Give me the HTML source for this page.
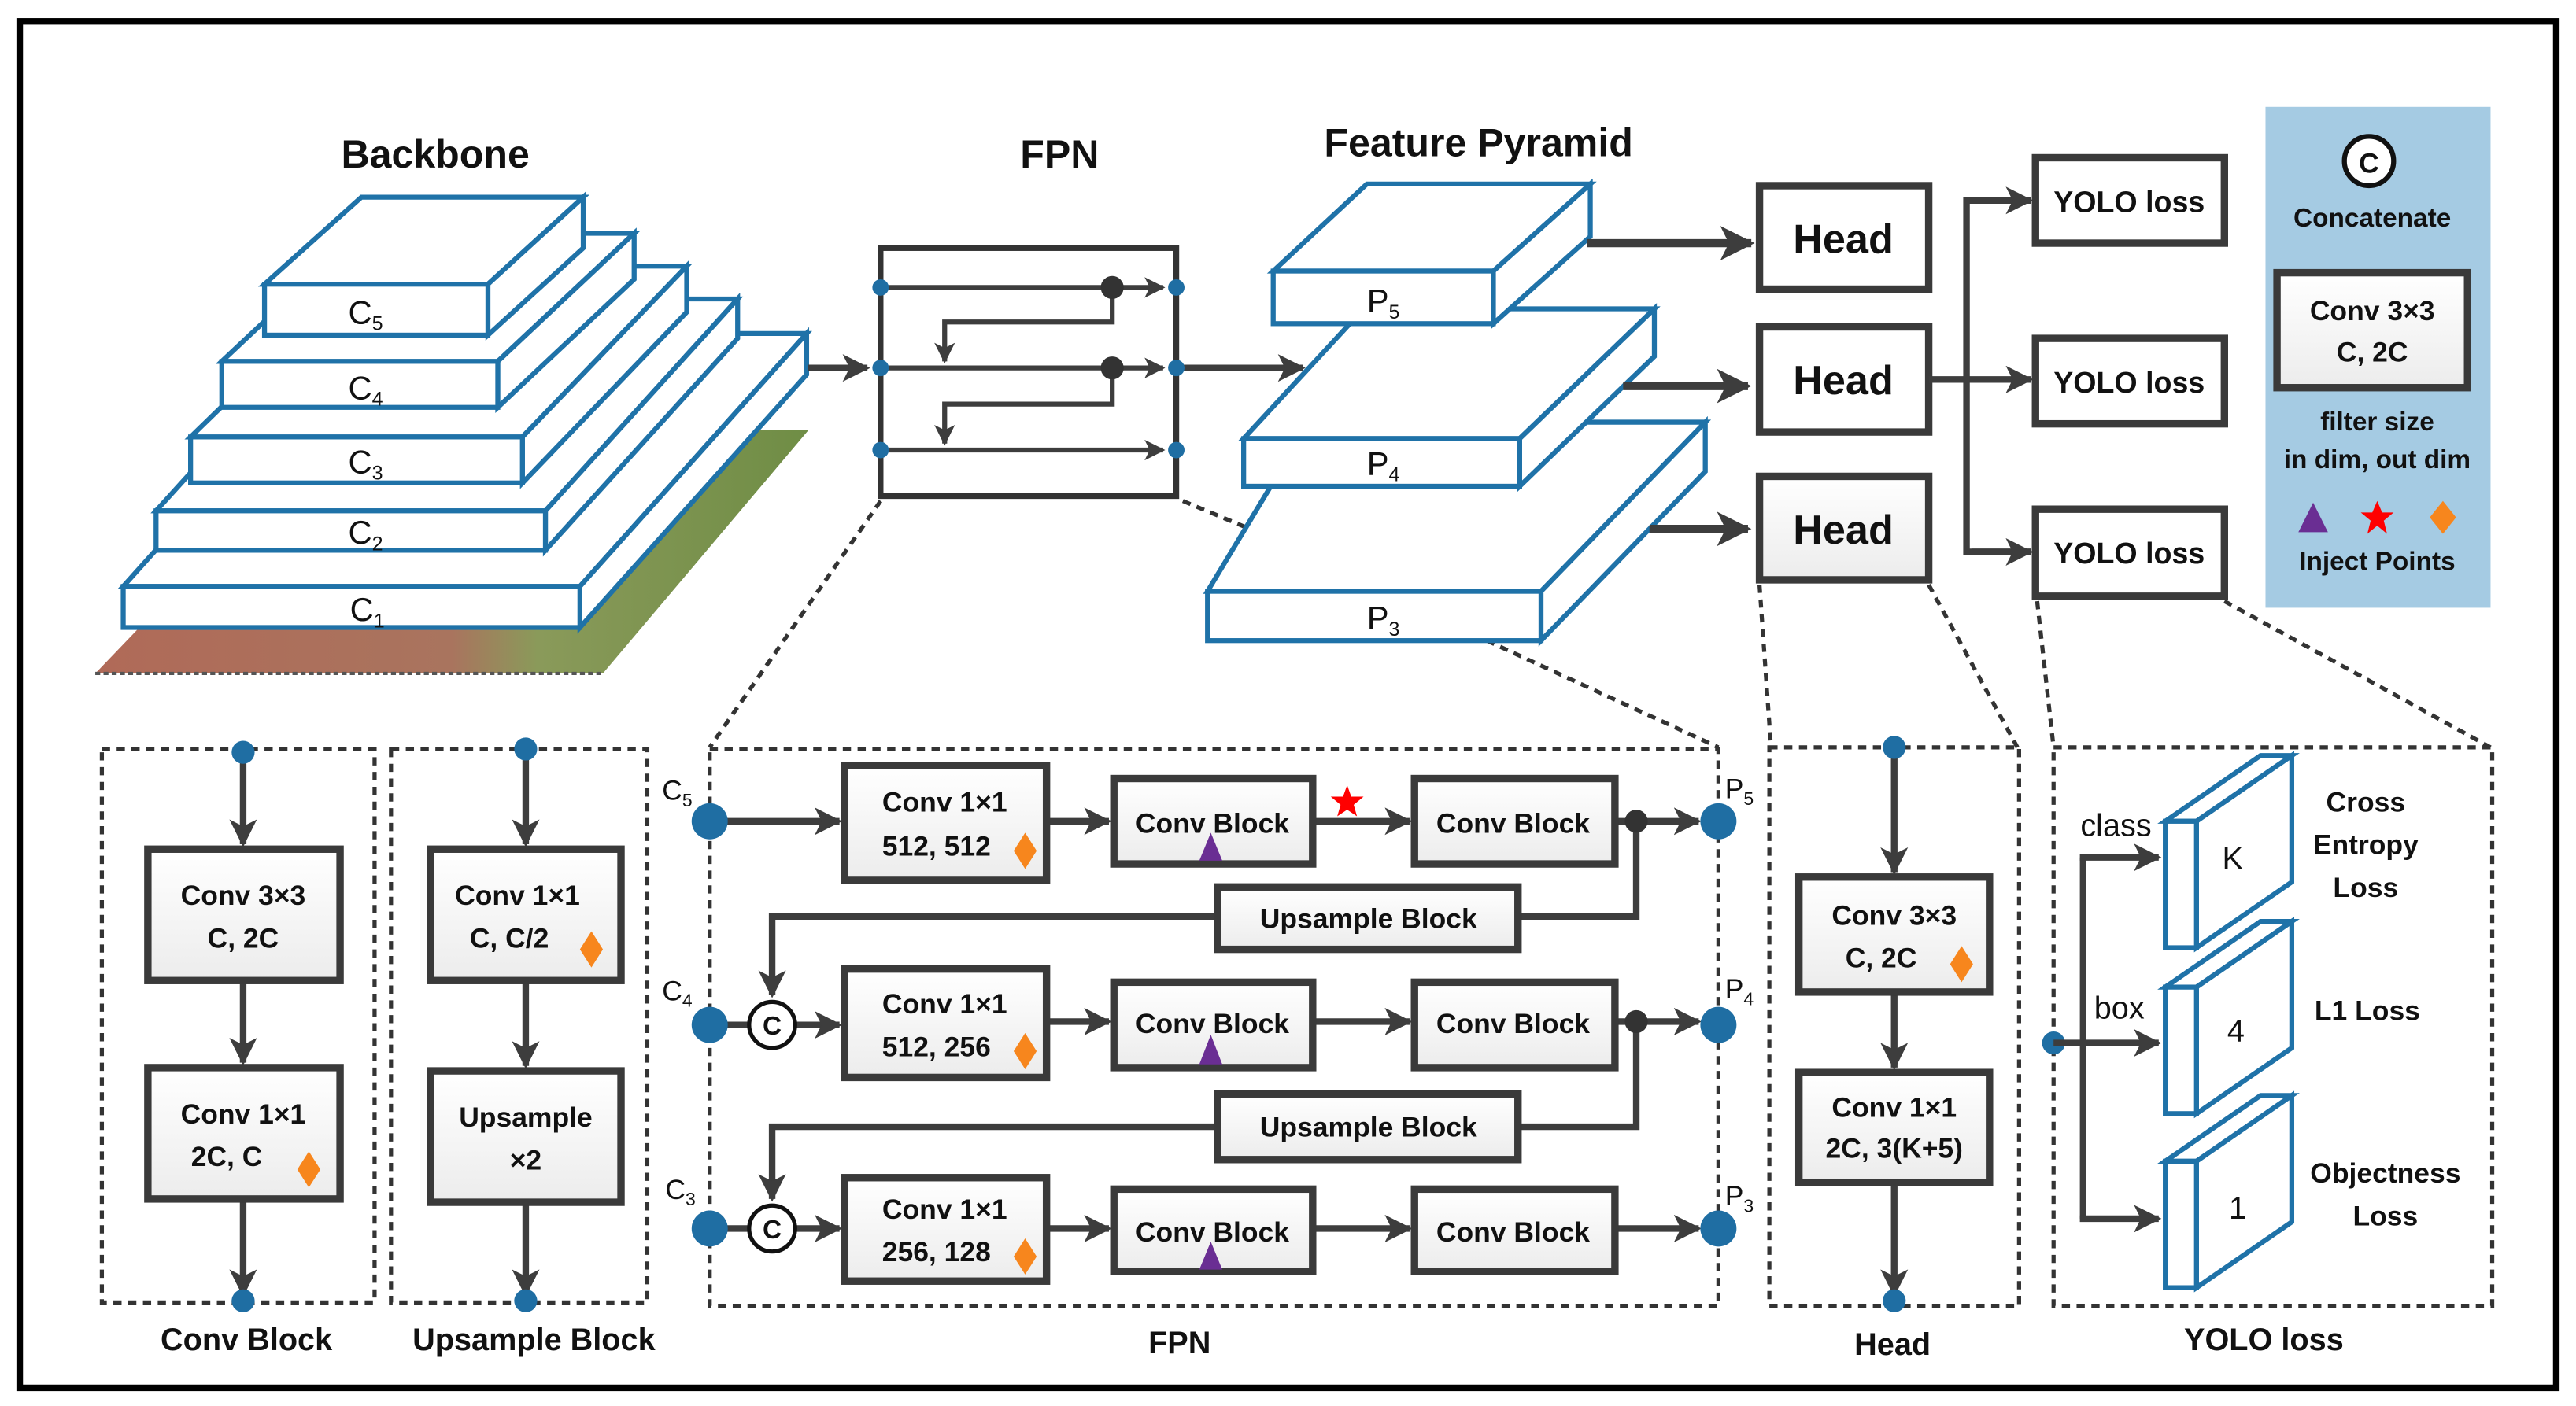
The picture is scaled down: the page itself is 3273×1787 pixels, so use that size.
<!DOCTYPE html>
<html><head><meta charset="utf-8"><style>
html,body{margin:0;padding:0;background:#fff;}
svg{display:block;}
text{font-family:"Liberation Sans",sans-serif;font-weight:bold;fill:#111;}
text.n{font-weight:normal;}
</style></head><body>
<svg width="3273" height="1787" viewBox="0 0 1568 856" xmlns="http://www.w3.org/2000/svg">
<defs>
<marker id="a" viewBox="0 0 10 10" refX="9" refY="5" markerWidth="4.2" markerHeight="4.2" orient="auto" markerUnits="strokeWidth"><path d="M0,0 L10,5 L0,10 L2.5,5 z" fill="#3d3d3d"/></marker>
<linearGradient id="g" x1="0" y1="0" x2="0" y2="1"><stop offset="0" stop-color="#fff"/><stop offset="1" stop-color="#ececec"/></linearGradient>
<linearGradient id="img" x1="0" y1="0" x2="1" y2="0"><stop offset="0" stop-color="#b06a58"/><stop offset="0.5" stop-color="#a9745e"/><stop offset="0.62" stop-color="#8a9a5a"/><stop offset="1" stop-color="#6f8d45"/></linearGradient>
</defs>
<rect x="0" y="0" width="1568" height="856" fill="#fff"/>
<rect x="12" y="13" width="1544" height="832" fill="none" stroke="#000" stroke-width="4"/>

<text x="265" y="102" font-size="24" text-anchor="middle">Backbone</text>
<text x="645" y="102" font-size="24" text-anchor="middle">FPN</text>
<text x="900" y="95" font-size="24" text-anchor="middle">Feature Pyramid</text>

<polygon points="58,410 367,410 492,262 200,262" fill="url(#img)"/>
<line x1="58" y1="410" x2="367" y2="410" stroke="#555" stroke-width="2" stroke-dasharray="3,2"/>

<g fill="#fff" stroke="#1f72a8" stroke-width="3" stroke-linejoin="miter">
<polygon points="75,357 213,203 491,203 353,357"/><polygon points="353,357 491,203 491,228 353,382"/><rect x="75" y="357" width="278" height="25"/>
<polygon points="95,311 212,182 449,182 332,311"/><polygon points="332,311 449,182 449,206 332,335"/><rect x="95" y="311" width="237" height="24"/>
<polygon points="116,266 223,162 418,162 318,266"/><polygon points="318,266 418,162 418,190 318,294"/><rect x="116" y="266" width="202" height="28"/>
<polygon points="135,220 218,142 386,142 303,220"/><polygon points="303,220 386,142 386,170 303,248"/><rect x="135" y="220" width="168" height="28"/>
<polygon points="161,173 220,120 355,120 297,173"/><polygon points="297,173 355,120 355,151 297,204"/><rect x="161" y="173" width="136" height="31"/>
</g>
<g font-size="20">
<text class="n" x="212" y="197">C<tspan font-size="12" dy="4">5</tspan></text>
<text class="n" x="212" y="243">C<tspan font-size="12" dy="4">4</tspan></text>
<text class="n" x="212" y="288">C<tspan font-size="12" dy="4">3</tspan></text>
<text class="n" x="212" y="331">C<tspan font-size="12" dy="4">2</tspan></text>
<text class="n" x="213" y="378">C<tspan font-size="12" dy="4">1</tspan></text>
</g>

<g stroke="#3d3d3d" stroke-width="4" fill="none">
<line x1="492" y1="224" x2="528" y2="224" marker-end="url(#a)"/>
</g>

<g stroke="#333" stroke-width="2.5" stroke-dasharray="5,4" fill="none">
<line x1="536" y1="305" x2="432" y2="455"/>
<line x1="720" y1="305" x2="780" y2="330"/>
<line x1="905" y1="390" x2="1046" y2="455"/>
<line x1="1071" y1="356" x2="1078" y2="455"/>
<line x1="1174" y1="356" x2="1228" y2="455"/>
<line x1="1240" y1="366" x2="1250" y2="455"/>
<line x1="1354" y1="366" x2="1516" y2="455"/>
</g>

<rect x="536" y="151" width="180" height="151" fill="#fff" stroke="#333" stroke-width="3.5"/>
<g stroke="#3d3d3d" stroke-width="3" fill="none">
<line x1="536" y1="175" x2="708" y2="175" marker-end="url(#a)"/>
<line x1="536" y1="224" x2="708" y2="224" marker-end="url(#a)"/>
<line x1="536" y1="274" x2="708" y2="274" marker-end="url(#a)"/>
<polyline points="677,175 677,196 575,196 575,220" marker-end="url(#a)"/>
<polyline points="677,224 677,246 575,246 575,270" marker-end="url(#a)"/>
<line x1="716" y1="224" x2="793" y2="224" stroke-width="4" marker-end="url(#a)"/>
</g>
<circle cx="677" cy="175" r="7" fill="#333"/><circle cx="677" cy="224" r="7" fill="#333"/>
<g fill="#1f6ea3"><circle cx="536" cy="175" r="5"/><circle cx="536" cy="224" r="5"/><circle cx="536" cy="274" r="5"/><circle cx="716" cy="175" r="5"/><circle cx="716" cy="224" r="5"/><circle cx="716" cy="274" r="5"/></g>

<g fill="#fff" stroke="#1f72a8" stroke-width="3">
<polygon points="735,360 797,257 1038,257 938,360"/><polygon points="938,360 1038,257 1038,287 938,390"/><rect x="735" y="360" width="203" height="30"/>
<polygon points="757,267 830,188 1007,188 925,267"/><polygon points="925,267 1007,188 1007,217 925,296"/><rect x="757" y="267" width="168" height="29"/>
<polygon points="775,165 832,112 968,112 909,165"/><polygon points="909,165 968,112 968,144 909,197"/><rect x="775" y="165" width="134" height="32"/>
</g>
<text class="n" x="832" y="190" font-size="20">P<tspan font-size="12" dy="4">5</tspan></text>
<text class="n" x="832" y="289" font-size="20">P<tspan font-size="12" dy="4">4</tspan></text>
<text class="n" x="832" y="383" font-size="20">P<tspan font-size="12" dy="4">3</tspan></text>

<g stroke="#3d3d3d" stroke-width="5" fill="none">
<line x1="966" y1="148" x2="1066" y2="148" marker-end="url(#a)"/>
<line x1="988" y1="235" x2="1064" y2="235" marker-end="url(#a)"/>
<line x1="1004" y1="322" x2="1064" y2="322" marker-end="url(#a)"/>
</g>

<g stroke="#3a3a3a" stroke-width="4.5">
<rect x="1071" y="113" width="103" height="63" fill="#fff"/>
<rect x="1071" y="199" width="103" height="64" fill="#fff"/>
<rect x="1071" y="290" width="103" height="63" fill="url(#g)"/>
</g>
<g font-size="25" text-anchor="middle"><text x="1122" y="154">Head</text><text x="1122" y="240">Head</text><text x="1122" y="331">Head</text></g>

<g stroke="#3d3d3d" stroke-width="4" fill="none">
<line x1="1174" y1="231" x2="1236" y2="231" marker-end="url(#a)"/>
<polyline points="1236,122 1197,122 1197,336 1236,336"/>
<line x1="1200" y1="122" x2="1236" y2="122" marker-end="url(#a)"/>
<line x1="1200" y1="336" x2="1236" y2="336" marker-end="url(#a)"/>
</g>
<g stroke="#3a3a3a" stroke-width="4.5" fill="#fff">
<rect x="1239" y="96" width="115" height="52"/><rect x="1239" y="206" width="115" height="52"/><rect x="1239" y="310" width="115" height="53"/>
</g>
<g font-size="18" text-anchor="middle"><text x="1296" y="129">YOLO loss</text><text x="1296" y="239">YOLO loss</text><text x="1296" y="343">YOLO loss</text></g>

<rect x="1379" y="65" width="137" height="305" fill="#a5cbe3"/>
<circle cx="1442" cy="98" r="15" fill="#fff" stroke="#111" stroke-width="3"/>
<text x="1442" y="105" font-size="17" text-anchor="middle">C</text>
<text x="1444" y="138" font-size="16" text-anchor="middle">Concatenate</text>
<rect x="1386" y="166" width="116" height="70" fill="url(#g)" stroke="#3a3a3a" stroke-width="4.5"/>
<text x="1444" y="195" font-size="17" text-anchor="middle">Conv 3×3</text>
<text x="1444" y="220" font-size="17" text-anchor="middle">C, 2C</text>
<text x="1447" y="262" font-size="16" text-anchor="middle">filter size</text>
<text x="1447" y="285" font-size="16" text-anchor="middle">in dim, out dim</text>
<polygon points="1408,306 1417,324 1399,324" fill="#6a2e93"/>
<polygon points="1447,305 1450,312 1457,312 1451,317 1453,325 1447,320 1441,325 1443,317 1437,312 1444,312" fill="#f00"/>
<polygon points="1487,305 1495,315 1487,325 1479,315" fill="#f7861d"/>
<text x="1447" y="347" font-size="16" text-anchor="middle">Inject Points</text>

<g stroke="#333" stroke-width="2.5" stroke-dasharray="5,4" fill="none">
<rect x="62" y="456" width="166" height="337"/>
<rect x="238" y="456" width="156" height="337"/>
<rect x="432" y="456" width="614" height="339"/>
<rect x="1077" y="455" width="152" height="340"/>
<rect x="1250" y="455" width="267" height="340"/>
</g>

<g stroke="#3d3d3d" stroke-width="4" fill="none">
<line x1="148" y1="458" x2="148" y2="514" marker-end="url(#a)"/>
<line x1="148" y1="597" x2="148" y2="647" marker-end="url(#a)"/>
<line x1="148" y1="730" x2="148" y2="788" marker-end="url(#a)"/>
<line x1="320" y1="456" x2="320" y2="514" marker-end="url(#a)"/>
<line x1="320" y1="597" x2="320" y2="649" marker-end="url(#a)"/>
<line x1="320" y1="732" x2="320" y2="788" marker-end="url(#a)"/>
<line x1="1153" y1="455" x2="1153" y2="531" marker-end="url(#a)"/>
<line x1="1153" y1="604" x2="1153" y2="650" marker-end="url(#a)"/>
<line x1="1153" y1="720" x2="1153" y2="788" marker-end="url(#a)"/>
</g>
<g stroke="#3a3a3a" stroke-width="4.5" fill="url(#g)">
<rect x="90" y="517" width="117" height="80"/><rect x="90" y="650" width="117" height="80"/>
<rect x="262" y="517" width="116" height="80"/><rect x="262" y="652" width="116" height="80"/>
<rect x="1095" y="534" width="116" height="70"/><rect x="1095" y="653" width="116" height="67"/>
</g>
<g font-size="17" text-anchor="middle">
<text x="148" y="551">Conv 3×3</text><text x="148" y="577">C, 2C</text>
<text x="148" y="684">Conv 1×1</text><text x="138" y="710">2C, C</text>
<text x="315" y="551">Conv 1×1</text><text x="310" y="577">C, C/2</text>
<text x="320" y="686">Upsample</text><text x="320" y="712">×2</text>
<text x="1153" y="563">Conv 3×3</text><text x="1145" y="589">C, 2C</text>
<text x="1153" y="680">Conv 1×1</text><text x="1153" y="705">2C, 3(K+5)</text>
<text x="150" y="822" font-size="19">Conv Block</text>
<text x="325" y="822" font-size="19">Upsample Block</text>
<text x="718" y="824" font-size="19">FPN</text>
<text x="1152" y="825" font-size="19">Head</text>
<text x="1378" y="822" font-size="19">YOLO loss</text>
</g>
<g fill="#1f6ea3"><circle cx="148" cy="458" r="7"/><circle cx="148" cy="792" r="7"/><circle cx="320" cy="456" r="7"/><circle cx="320" cy="792" r="7"/><circle cx="1153" cy="455" r="7"/><circle cx="1153" cy="792" r="7"/><circle cx="1250" cy="635" r="7"/></g>

<g stroke="#3d3d3d" stroke-width="4" fill="none">
<line x1="432" y1="500" x2="511" y2="500" marker-end="url(#a)"/>
<line x1="637" y1="500" x2="675" y2="500" marker-end="url(#a)"/>
<line x1="799" y1="500" x2="858" y2="500" marker-end="url(#a)"/>
<line x1="983" y1="500" x2="1034" y2="500" marker-end="url(#a)"/>
<polyline points="996,500 996,558 470,558 470,606" marker-end="url(#a)"/>
<line x1="432" y1="624" x2="455" y2="624"/>
<line x1="485" y1="624" x2="511" y2="624" marker-end="url(#a)"/>
<line x1="637" y1="622" x2="675" y2="622" marker-end="url(#a)"/>
<line x1="799" y1="622" x2="858" y2="622" marker-end="url(#a)"/>
<line x1="983" y1="622" x2="1034" y2="622" marker-end="url(#a)"/>
<polyline points="996,622 996,686 470,686 470,730" marker-end="url(#a)"/>
<line x1="432" y1="748" x2="455" y2="748"/>
<line x1="485" y1="748" x2="511" y2="748" marker-end="url(#a)"/>
<line x1="637" y1="748" x2="675" y2="748" marker-end="url(#a)"/>
<line x1="799" y1="748" x2="858" y2="748" marker-end="url(#a)"/>
<line x1="983" y1="748" x2="1034" y2="748" marker-end="url(#a)"/>
</g>
<circle cx="996" cy="500" r="7" fill="#333"/><circle cx="996" cy="622" r="7" fill="#333"/>
<g stroke="#3a3a3a" stroke-width="4.5" fill="url(#g)">
<rect x="514" y="466" width="123" height="70"/><rect x="678" y="474" width="121" height="52"/><rect x="861" y="474" width="122" height="52"/>
<rect x="741" y="540" width="183" height="38"/>
<rect x="514" y="590" width="123" height="66"/><rect x="678" y="598" width="121" height="52"/><rect x="861" y="598" width="122" height="52"/>
<rect x="741" y="666" width="183" height="40"/>
<rect x="514" y="717" width="123" height="63"/><rect x="678" y="724" width="121" height="50"/><rect x="861" y="724" width="122" height="50"/>
</g>
<g font-size="17" text-anchor="middle">
<text x="575" y="494">Conv 1×1</text><text x="570" y="521">512, 512</text>
<text x="738" y="507">Conv Block</text><text x="921" y="507">Conv Block</text>
<text x="833" y="565">Upsample Block</text>
<text x="575" y="617">Conv 1×1</text><text x="570" y="643">512, 256</text>
<text x="738" y="629">Conv Block</text><text x="921" y="629">Conv Block</text>
<text x="833" y="692">Upsample Block</text>
<text x="575" y="742">Conv 1×1</text><text x="570" y="768">256, 128</text>
<text x="738" y="756">Conv Block</text><text x="921" y="756">Conv Block</text>
</g>
<g fill="#f7861d">
<polygon points="624,507 631,518 624,529 617,518"/><polygon points="624,629 631,640 624,651 617,640"/><polygon points="624,754 631,765 624,776 617,765"/>
<polygon points="360,567 367,578 360,589 353,578"/><polygon points="188,701 195,712 188,723 181,712"/><polygon points="1194,576 1201,587 1194,598 1187,587"/>
</g>
<g fill="#6a2e93">
<polygon points="737,507 744,524 730,524"/><polygon points="737,630 744,648 730,648"/><polygon points="737,756 744,773 730,773"/>
</g>
<polygon points="820,478 822.5,485 830,485 824,490 826,497 820,493 814,497 816,490 810,485 817.5,485" fill="#f00"/>
<g fill="#fff" stroke="#111" stroke-width="2.5"><circle cx="470" cy="624" r="14"/><circle cx="470" cy="748" r="14"/></g>
<text x="470" y="630" font-size="16" text-anchor="middle">C</text>
<text x="470" y="754" font-size="16" text-anchor="middle">C</text>
<g fill="#1f6ea3"><circle cx="432" cy="500" r="11"/><circle cx="432" cy="624" r="11"/><circle cx="432" cy="748" r="11"/><circle cx="1046" cy="500" r="11"/><circle cx="1046" cy="624" r="11"/><circle cx="1046" cy="748" r="11"/></g>
<g font-size="17">
<text class="n" x="403" y="487">C<tspan font-size="11" dy="4">5</tspan></text>
<text class="n" x="403" y="609">C<tspan font-size="11" dy="4">4</tspan></text>
<text class="n" x="405" y="730">C<tspan font-size="11" dy="4">3</tspan></text>
<text class="n" x="1050" y="486">P<tspan font-size="11" dy="4">5</tspan></text>
<text class="n" x="1050" y="608">P<tspan font-size="11" dy="4">4</tspan></text>
<text class="n" x="1050" y="734">P<tspan font-size="11" dy="4">3</tspan></text>
</g>

<g stroke="#3d3d3d" stroke-width="4" fill="none">
<line x1="1250" y1="635" x2="1268" y2="635"/>
<polyline points="1268,522 1268,742"/>
<line x1="1266" y1="522" x2="1314" y2="522" marker-end="url(#a)"/>
<line x1="1268" y1="635" x2="1314" y2="635" marker-end="url(#a)"/>
<line x1="1266" y1="742" x2="1314" y2="742" marker-end="url(#a)"/>
</g>
<g fill="#fff" stroke="#1f72a8" stroke-width="3">
<polygon points="1318,500 1376,460 1395,460 1337,500"/><polygon points="1337,500 1395,460 1395,537 1337,577"/><rect x="1318" y="500" width="19" height="77"/>
<polygon points="1318,601 1376,561 1395,561 1337,601"/><polygon points="1337,601 1395,561 1395,638 1337,678"/><rect x="1318" y="601" width="19" height="77"/>
<polygon points="1318,707 1376,667 1395,667 1337,707"/><polygon points="1337,707 1395,667 1395,744 1337,784"/><rect x="1318" y="707" width="19" height="77"/>
</g>
<g font-size="19" text-anchor="middle">
<text class="n" x="1359" y="529">K</text><text class="n" x="1361" y="634">4</text><text class="n" x="1362" y="742">1</text>
<text class="n" x="1288" y="509">class</text><text class="n" x="1290" y="620">box</text>
</g>
<g font-size="17" text-anchor="middle">
<text x="1440" y="494">Cross</text><text x="1440" y="520">Entropy</text><text x="1440" y="546">Loss</text>
<text x="1441" y="621">L1 Loss</text>
<text x="1452" y="720">Objectness</text><text x="1452" y="746">Loss</text>
</g>
</svg>
</body></html>
